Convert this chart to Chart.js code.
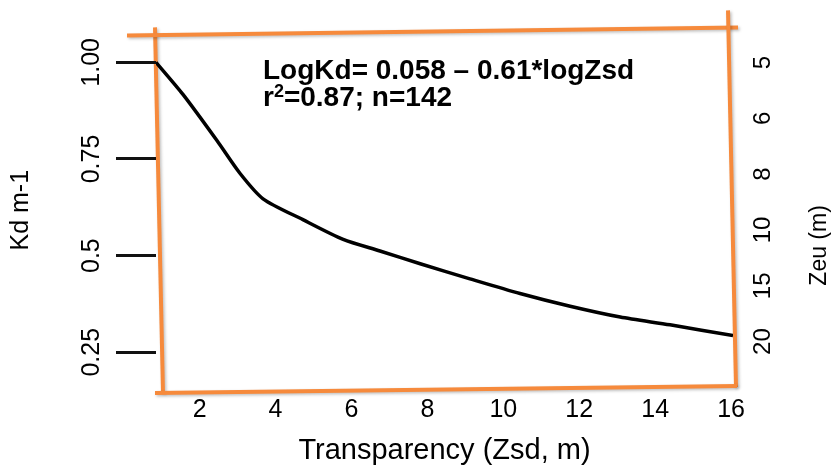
<!DOCTYPE html>
<html>
<head>
<meta charset="utf-8">
<script src="https://cdn.jsdelivr.net/npm/chart.js@4.4.1/dist/chart.umd.min.js"></script>
<style>
  html, body { margin: 0; padding: 0; background: #fff; }
</style>
</head>
<body>
<canvas id="chart" width="835" height="468"></canvas>
<script>
// Kd against Secchi transparency (fitted curve)
const zsd = [0.85, 1.56, 2.46, 3.06, 3.67, 4.72, 5.78, 6.75, 7.81, 9.12, 10.44, 11.76, 13.08, 14.39, 16.05];
const kd = [1.00, 0.917, 0.797, 0.713, 0.647, 0.593, 0.542, 0.512, 0.479, 0.440, 0.402, 0.369, 0.341, 0.321, 0.293];

const zsdTicks = [2, 4, 6, 8, 10, 12, 14, 16];
const kdTicks = [1.00, 0.75, 0.5, 0.25];
const kdTickLabels = ["1.00", "0.75", "0.5", "0.25"];
const zeuLabels = ["5", "6", "8", "10", "15", "20"];

const fitEquation = "LogKd= 0.058 \u2013 0.61*logZsd";
const fitStats = ["r", "2", "=0.87; n=142"]; // base, superscript, rest
const zeuTitle = "Zeu (m)";

const FONT = "'Liberation Sans', Arial, Helvetica, sans-serif";
const ORANGE = "#f68a3c";

// hand-drawn looking orange frame round the plot area, plus the fit text
const framePlugin = {
    id: "frame",
    beforeDraw(chart) {
        const { ctx } = chart;
        const { left: L, right: R, top: T, bottom: B } = chart.chartArea;
        const segs = [
            [L - 1, T - 4, L + 7, B + 4],
            [L - 29, T + 4, R + 5, T - 4],
            [R - 5, T - 21, R + 3, B - 2],
            [L - 1, B + 4, R + 4, B - 3]
        ];
        ctx.save();
        ctx.strokeStyle = ORANGE;
        ctx.lineWidth = 4;
        ctx.lineCap = "butt";
        ctx.shadowColor = "rgba(0,0,0,0.25)";
        ctx.shadowBlur = 3;
        ctx.shadowOffsetX = 1.5;
        ctx.shadowOffsetY = 1.5;
        segs.forEach(([x1, y1, x2, y2]) => {
            ctx.beginPath();
            ctx.moveTo(x1, y1);
            ctx.lineTo(x2, y2);
            ctx.stroke();
        });
        ctx.restore();
    },
    afterDraw(chart) {
        const { ctx } = chart;
        const { left, top } = chart.chartArea;
        const tx = left + 107;
        ctx.save();
        ctx.fillStyle = "#000";
        ctx.textBaseline = "alphabetic";
        ctx.font = "bold 28px " + FONT;
        ctx.fillText(fitEquation, tx, top + 48);

        // r² line with a proper superscript
        let x = tx;
        const y2 = top + 75;
        ctx.fillText(fitStats[0], x, y2);
        x += ctx.measureText(fitStats[0]).width;
        ctx.font = "bold 18px " + FONT;
        ctx.fillText(fitStats[1], x, y2 - 9);
        x += ctx.measureText(fitStats[1]).width;
        ctx.font = "bold 28px " + FONT;
        ctx.fillText(fitStats[2], x, y2);

        // right axis title reads bottom to top
        const zs = chart.scales.yZeu;
        ctx.font = "23px " + FONT;
        ctx.textAlign = "center";
        ctx.textBaseline = "middle";
        ctx.translate(zs.right - 15, top + 214);
        ctx.rotate(-Math.PI / 2);
        ctx.fillText(zeuTitle, 0, 0);
        ctx.restore();
    }
};

new Chart(document.getElementById("chart"), {
    type: "line",
    data: {
        datasets: [{
            data: zsd.map((x, i) => ({ x: x, y: kd[i] })),
            borderColor: "#000",
            borderWidth: 3.5,
            pointRadius: 0,
            tension: 0.25,
            fill: false,
            xAxisID: "x",
            yAxisID: "y"
        }]
    },
    options: {
        responsive: false,
        animation: false,
        layout: { padding: { top: 26, left: 0, right: 0, bottom: 0 } },
        plugins: { legend: { display: false }, tooltip: { enabled: false } },
        scales: {
            x: {
                type: "linear",
                position: "bottom",
                min: 0.85,
                max: 16.05,
                afterBuildTicks: s => { s.ticks = zsdTicks.map(v => ({ value: v })); },
                afterFit: s => { s.height = 79; },
                grid: { display: false, drawTicks: false },
                border: { display: false },
                ticks: {
                    color: "#000",
                    font: { family: FONT, size: 25 },
                    padding: 6,
                    maxRotation: 0,
                    autoSkip: false
                },
                title: {
                    display: true,
                    text: "Transparency (Zsd, m)",
                    color: "#000",
                    font: { family: FONT, size: 29 },
                    padding: { top: 0, bottom: 0 }
                }
            },
            y: {
                type: "linear",
                position: "left",
                min: 0.155,
                max: 1.08,
                afterBuildTicks: s => { s.ticks = kdTicks.map(v => ({ value: v })); },
                afterFit: s => { s.width = 156; },
                grid: {
                    drawOnChartArea: false,
                    drawTicks: true,
                    tickLength: 40,
                    tickColor: "#111",
                    tickWidth: 3
                },
                border: { display: false },
                ticks: {
                    color: "#000",
                    font: { family: FONT, size: 25 },
                    padding: 0,
                    minRotation: 90,
                    maxRotation: 90,
                    crossAlign: "center",
                    callback: v => kdTickLabels[kdTicks.indexOf(v)]
                },
                title: {
                    display: true,
                    text: "Kd m-1",
                    color: "#000",
                    font: { family: FONT, size: 25 },
                    padding: { top: 6, bottom: 0 }
                }
            },
            yZeu: {
                type: "linear",
                position: "right",
                reverse: true,
                min: -0.558,
                max: 5.849,
                afterBuildTicks: s => { s.ticks = zeuLabels.map((_, i) => ({ value: i })); },
                afterFit: s => { s.width = 102; },
                grid: { display: false, drawTicks: false },
                border: { display: false },
                ticks: {
                    color: "#000",
                    font: { family: FONT, size: 24 },
                    padding: 17,
                    minRotation: 90,
                    maxRotation: 90,
                    crossAlign: "center",
                    callback: v => zeuLabels[v]
                },
                title: { display: false }
            }
        }
    },
    plugins: [framePlugin]
});
</script>
</body>
</html>
